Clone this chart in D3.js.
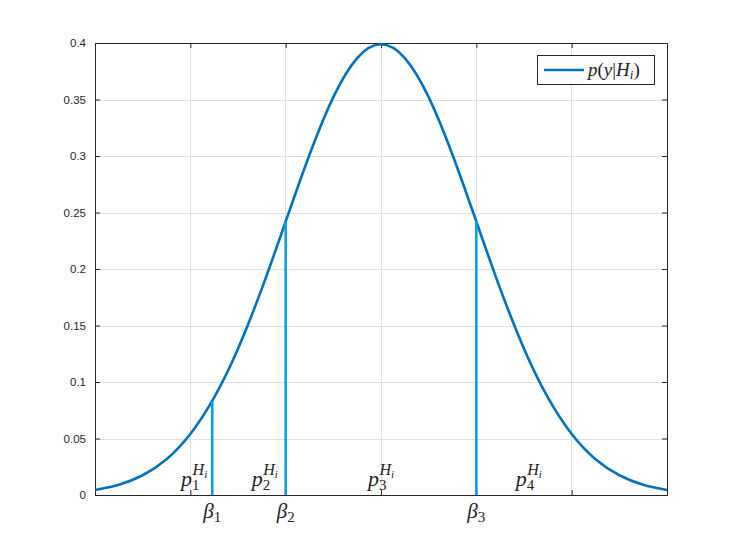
<!DOCTYPE html>
<html><head><meta charset="utf-8">
<script src="https://cdn.jsdelivr.net/npm/d3@7"></script>
<style>body{margin:0;background:#fff;}svg{display:block;}</style>
</head><body>
<script>
// ---- data ----
const xSamples = [-3,-2.75,-2.5,-2.25,-2,-1.75,-1.5,-1.25,-1,-0.75,-0.5,-0.25,0,0.25,0.5,0.75,1,1.25,1.5,1.75,2,2.25,2.5,2.75,3];
const pdfValues = [0.0044,0.0091,0.0175,0.0317,0.054,0.0863,0.1295,0.1826,0.242,0.3011,0.3521,0.3867,0.3989,0.3867,0.3521,0.3011,0.242,0.1826,0.1295,0.0863,0.054,0.0317,0.0175,0.0091,0.0044];
const betaNames = ["1","2","3"];
const betaX = [-1.77,-1,1];
const betaHeights = [0.083,0.242,0.242];
const regionNames = ["1","2","3","4"];
const regionX = [-1.96,-1.22,0,1.55];
const yTicks = [0,0.05,0.1,0.15,0.2,0.25,0.3,0.35,0.4];
const xTicks = [-2,-1,0,1,2];

const W=737,H=555;
const L=95,R=667,T=43,B=495;
const svg=d3.select("body").append("svg").attr("width",W).attr("height",H);
svg.append("rect").attr("width",W).attr("height",H).attr("fill","#fff");
const x=d3.scaleLinear().domain([-3,3]).range([L,R]);
const y=d3.scaleLinear().domain([0,0.4]).range([B,T]);
const axisCol="#262626";

// grid
const g=svg.append("g");
g.selectAll(".gx").data(xTicks).enter().append("line")
 .attr("x1",d=>x(d)).attr("x2",d=>x(d)).attr("y1",T).attr("y2",B)
 .attr("stroke","#dfdfdf").attr("stroke-width",1).attr("shape-rendering","crispEdges");
g.selectAll(".gy").data(yTicks).enter().append("line")
 .attr("y1",d=>Math.round(y(d))+0.5).attr("y2",d=>Math.round(y(d))+0.5).attr("x1",L).attr("x2",R)
 .attr("stroke","#dfdfdf").attr("stroke-width",1);

// axes via d3 axis (inward ticks)
const yl=svg.append("g").attr("transform",`translate(${L},0)`)
 .call(d3.axisLeft(y).tickValues(yTicks).tickSize(-5).tickPadding(9).tickFormat(d=>d3.format("")(+d.toFixed(2))));
const yr=svg.append("g").attr("transform",`translate(${R},0)`)
 .call(d3.axisRight(y).tickValues(yTicks).tickSize(-5).tickFormat(""));
const xb=svg.append("g").attr("transform",`translate(0,${B})`)
 .call(d3.axisBottom(x).tickValues(xTicks).tickSize(-5).tickFormat(""));
const xt=svg.append("g").attr("transform",`translate(0,${T})`)
 .call(d3.axisTop(x).tickValues(xTicks).tickSize(-5).tickFormat(""));
[yl,yr,xb,xt].forEach(a=>{
  a.selectAll("path").attr("stroke",axisCol).attr("stroke-width",1);
  a.selectAll("line").attr("stroke",axisCol);
  a.selectAll("text").attr("fill",axisCol).attr("font-family","Liberation Sans, Arial, sans-serif").attr("font-size","11.5px");
});

// curve
const pts=xSamples.map((v,i)=>[v,pdfValues[i]]);
svg.append("clipPath").attr("id","c").append("rect").attr("x",L).attr("y",T-3).attr("width",R-L).attr("height",B-T+3);
svg.append("path").datum(pts).attr("clip-path","url(#c)")
 .attr("d",d3.line().x(d=>x(d[0])).y(d=>y(d[1])).curve(d3.curveNatural))
 .attr("fill","none").attr("stroke","#0072BD").attr("stroke-width",2.6);

// beta lines
svg.selectAll(".bl").data(betaX).enter().append("line")
 .attr("x1",d=>x(d)).attr("x2",d=>x(d)).attr("y1",y(0)).attr("y2",(d,i)=>y(betaHeights[i]))
 .attr("stroke","#0aa0e3").attr("stroke-width",2.6);

const serif="Liberation Serif, Times New Roman, serif";
// beta labels
betaX.forEach((b,i)=>{
  const t=svg.append("text").attr("x",x(b)).attr("y",518).attr("text-anchor","middle")
   .attr("font-family",serif).attr("font-size","21px").attr("fill","#222");
  t.append("tspan").attr("font-style","italic").text("β");
  t.append("tspan").attr("font-size","15px").attr("dy",4).text(betaNames[i]);
});
// region labels p_k^{H_i}
regionX.forEach((r,i)=>{
  const t=svg.append("text").attr("x",x(r)).attr("y",486).attr("text-anchor","middle")
   .attr("font-family",serif).attr("font-size","22px").attr("fill","#222");
  t.append("tspan").attr("font-style","italic").text("p");
  t.append("tspan").attr("font-size","15px").attr("dy",4).text(regionNames[i]);
  t.append("tspan").attr("font-size","16px").attr("font-style","italic").attr("dx",-7).attr("dy",-15).text("H");
  t.append("tspan").attr("font-size","11px").attr("font-style","italic").attr("dy",3).text("i");
});

// legend
const lg=svg.append("g");
lg.append("rect").attr("x",537.5).attr("y",55.5).attr("width",117).attr("height",29)
 .attr("fill","#fff").attr("stroke",axisCol).attr("stroke-width",1);
lg.append("line").attr("x1",544).attr("x2",584).attr("y1",70).attr("y2",70)
 .attr("stroke","#0072BD").attr("stroke-width",2.6);
const lt=lg.append("text").attr("x",588).attr("y",76).attr("font-family",serif).attr("font-size","19px").attr("fill","#222");
lt.append("tspan").attr("font-style","italic").text("p");
lt.append("tspan").text("(");
lt.append("tspan").attr("font-style","italic").text("y");
lt.append("tspan").text("|");
lt.append("tspan").attr("font-style","italic").text("H");
lt.append("tspan").attr("font-size","13px").attr("font-style","italic").attr("dy",3).text("i");
lt.append("tspan").attr("dy",-3).text(")");
</script>
</body></html>
